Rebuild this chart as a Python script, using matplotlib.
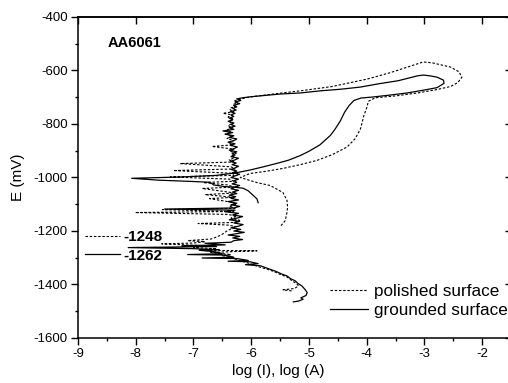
import matplotlib
matplotlib.use("Agg")
import matplotlib.pyplot as plt
from matplotlib.ticker import MultipleLocator
from matplotlib.lines import Line2D

plt.rcParams['font.family'] = ['Liberation Sans', 'DejaVu Sans']
plt.rcParams['axes.unicode_minus'] = False

# ---------------- data ----------------
# grounded surface (solid): forward scan, breakdown, reverse scan
grounded_logI = [
    -5.27, -5.18, -5.10, -5.14, -5.05, -5.03, -5.07, -5.12, -5.19, -5.24,
    -5.32, -5.38, -5.48, -5.56, -5.66, -5.76, -5.84, -6.10, -5.88, -6.02,
    -6.40, -6.05, -6.25, -6.85, -6.30, -6.45, -7.10, -6.50, -6.62, -6.90,
    -6.55, -7.00, -8.13, -6.60, -7.20, -6.45, -6.80, -6.35,
    -6.30, -6.15, -6.32, -6.20, -6.40, -6.25, -6.12, -6.30, -6.18, -6.35,
    -6.22, -6.14, -6.30, -6.20, -6.38, -6.25, -6.15, -6.32, -6.22, -6.45,
    -6.28, -7.50, -6.30, -6.20, -6.35, -6.25, -6.40, -6.22, -6.35, -6.27,
    -6.38, -6.25, -6.32, -6.22, -6.35, -6.28, -6.20, -6.33, -6.25, -6.30,
    -6.22, -6.35, -6.28, -6.20, -6.32, -6.25, -6.35, -6.28, -6.22, -6.33,
    -6.26, -6.36, -6.28, -6.22, -6.35, -6.28, -6.33, -6.25, -6.38, -6.30,
    -6.24, -6.36, -6.28, -6.40, -6.30, -6.25, -6.38, -6.30, -6.45, -6.32,
    -6.49, -6.30, -6.38, -6.28, -6.35, -6.30, -6.40, -6.32, -6.38, -6.30,
    -6.35, -6.28, -6.36, -6.26, -6.32, -6.25, -6.30, -6.20, -6.28, -6.18,
    -6.25, -6.15,
    -6.00, -5.80, -5.50, -5.15, -4.80, -4.45, -4.11, -3.80, -3.45, -3.12,
    -3.02, -2.90, -2.78, -2.67, -2.66, -2.78, -3.00, -3.30, -3.60, -3.89,
    -4.10, -4.22, -4.30, -4.38, -4.46, -4.55, -4.63, -4.81, -5.00, -5.15,
    -5.35, -5.50, -5.75, -6.02, -6.25, -6.60, -7.20, -8.07, -7.60, -7.00,
    -6.71, -6.65, -6.45, -6.31, -6.14, -6.05, -5.97, -5.90, -5.88,
]
grounded_E = [
    -1465, -1462, -1455, -1450, -1441, -1430, -1418, -1406, -1396, -1386,
    -1378, -1368, -1360, -1352, -1344, -1336, -1330, -1326, -1322, -1315,
    -1313, -1310, -1303, -1301, -1298, -1290, -1288, -1285, -1278, -1272,
    -1270, -1266, -1262, -1258, -1255, -1252, -1246, -1242,
    -1236, -1232, -1226, -1220, -1215, -1210, -1205, -1200, -1194, -1188,
    -1182, -1176, -1170, -1164, -1158, -1152, -1146, -1140, -1134, -1128,
    -1122, -1118, -1114, -1108, -1102, -1096, -1090, -1084, -1078, -1072,
    -1066, -1060, -1054, -1048, -1042, -1036, -1030, -1024, -1018, -1012,
    -1006, -1000, -994, -988, -982, -976, -970, -964, -958, -952,
    -946, -940, -934, -928, -922, -916, -910, -904, -898, -892,
    -886, -880, -874, -868, -862, -856, -850, -844, -838, -832,
    -826, -820, -814, -808, -802, -796, -790, -784, -778, -772,
    -766, -760, -754, -748, -742, -736, -730, -724, -718, -712,
    -706, -702,
    -698, -694, -688, -684, -676, -670, -662, -650, -638, -620,
    -617, -620, -625, -636, -648, -664, -673, -684, -692, -699,
    -703, -712, -730, -755, -790, -820, -843, -878, -902, -918,
    -935, -944, -958, -972, -982, -992, -998, -1003, -1010, -1015,
    -1018, -1028, -1034, -1036, -1040, -1050, -1066, -1080, -1094,
]

# polished surface (dashed)
polished_logI = [
    -5.30, -5.45, -5.25, -5.18, -5.22, -5.30, -5.38, -5.50, -5.60, -5.72,
    -5.85, -5.95, -6.05, -6.20, -6.35, -6.50, -6.35, -6.70, -5.90, -6.85,
    -6.60, -7.00, -6.80, -7.55, -7.00, -6.80, -7.10, -6.70, -6.59, -6.50,
    -6.42, -6.33,
    -6.25, -6.40, -6.92, -6.30, -6.20, -6.35, -6.25, -6.40, -8.01, -6.30,
    -7.54, -6.28, -6.38, -6.25, -6.35, -6.72, -6.30, -6.80, -6.28, -6.85,
    -6.30, -6.40, -6.83, -6.30, -6.38, -7.40, -6.30, -6.35, -7.35, -6.28,
    -6.35, -7.23, -6.30, -6.38, -6.28, -6.34, -6.26, -6.36, -6.30, -6.68,
    -6.32, -6.40, -6.30, -6.42, -6.32, -6.45, -6.35, -6.42, -6.32, -6.40,
    -6.33, -6.38, -6.30, -6.40, -6.32, -6.49, -6.30, -6.36, -6.37, -6.28,
    -6.32, -6.24, -6.30, -6.20, -6.10,
    -6.02, -5.70, -5.15, -4.60, -3.99, -3.59, -3.12, -3.02, -2.85, -2.55,
    -2.40, -2.35, -2.42, -2.55, -2.80, -3.12, -3.50, -3.85, -3.97, -4.00,
    -4.05, -4.11, -4.20, -4.34, -4.60, -4.86, -5.15, -5.45, -5.75, -6.02,
    -6.19, -5.90, -5.67, -5.45, -5.38, -5.37, -5.38, -5.41, -5.50,
]
polished_E = [
    -1424, -1420, -1415, -1405, -1396, -1385, -1372, -1362, -1352, -1343,
    -1335, -1328, -1320, -1310, -1300, -1292, -1288, -1280, -1274, -1272,
    -1266, -1262, -1255, -1248, -1245, -1240, -1236, -1230, -1222, -1212,
    -1200, -1190,
    -1184, -1178, -1172, -1168, -1160, -1152, -1145, -1138, -1131, -1127,
    -1120, -1115, -1108, -1100, -1092, -1079, -1074, -1064, -1058, -1041,
    -1036, -1028, -1019, -1014, -1006, -998, -992, -984, -974, -968,
    -960, -948, -942, -934, -926, -918, -910, -902, -894, -884,
    -878, -870, -862, -854, -846, -838, -830, -822, -814, -806,
    -798, -790, -782, -774, -766, -760, -754, -748, -741, -735,
    -728, -720, -714, -708, -702,
    -699, -690, -676, -660, -632, -608, -575, -568, -572, -587,
    -605, -625, -645, -660, -672, -684, -695, -702, -715, -740,
    -770, -820, -855, -886, -915, -936, -952, -966, -977, -985,
    -1000, -1019, -1030, -1056, -1086, -1110, -1131, -1161, -1184,
]

series_labels = ["polished surface", "grounded surface"]
ecorr_labels = ["-1248", "-1262"]
sample_label = "AA6061"
x_ticks = [-9, -8, -7, -6, -5, -4, -3, -2]
y_ticks = [-1600, -1400, -1200, -1000, -800, -600, -400]

# ---------------- figure ----------------
W, H = 508, 383
fig = plt.figure(figsize=(W / 100, H / 100), dpi=100)
ax = fig.add_axes([78 / W, (H - 338) / H, (511 - 78) / W, (338 - 17) / H])

dash_style = dict(color='black', lw=0.8, linestyle=(0, (2.2, 1.6)))
solid_style = dict(color='black', lw=0.9, linestyle='-')

ln_p, = ax.plot(polished_logI, polished_E, **dash_style)
ln_g, = ax.plot(grounded_logI, grounded_E, **solid_style)

ax.set_xlim(-9, -1.5)
ax.set_ylim(-1600, -400)
ax.set_xticks(x_ticks)
ax.set_yticks(y_ticks)
ax.xaxis.set_minor_locator(MultipleLocator(0.5))
ax.yaxis.set_minor_locator(MultipleLocator(100))
ax.tick_params(which='major', direction='out', length=5, width=1.0,
               labelsize=9.5, pad=2.5, colors='black')
ax.tick_params(which='minor', direction='out', length=2.5, width=1.0)
for s in ax.spines.values():
    s.set_linewidth(1.1)

# mirrored ticks (inward, no labels) on top and right
sx = ax.secondary_xaxis('top')
sx.set_xticks(x_ticks)
sx.tick_params(direction='in', length=5, width=1.0, labeltop=False)
sx.spines['top'].set_linewidth(1.1)
sy = ax.secondary_yaxis('right')
sy.set_yticks(y_ticks)
sy.tick_params(direction='in', length=4, width=1.0, labelright=False)

ax.set_xlabel("log (I), log (A)", fontsize=11)
ax.set_ylabel("E (mV)", fontsize=11)
ax.xaxis.set_label_coords((278 - 78) / (511 - 78), -(364 - 338) / (338 - 17), transform=ax.transAxes)
ax.yaxis.set_label_coords(-(78 - 25) / (511 - 78), 0.5, transform=ax.transAxes)

ax.text(-8.48, -497, sample_label, fontsize=10.5, fontweight='bold',
        ha='left', va='center')

leg1 = ax.legend([ln_p, ln_g], series_labels, loc='upper left',
                 bbox_to_anchor=(330 / W, 1 - 284 / H), bbox_transform=fig.transFigure,
                 frameon=False, fontsize=12.3, handlelength=2.2, handletextpad=0.35,
                 borderpad=0, borderaxespad=0, labelspacing=0.25)
ax.add_artist(leg1)

h1 = Line2D([], [], **dash_style)
h2 = Line2D([], [], **solid_style)
leg2 = ax.legend([h1, h2], ecorr_labels, loc='upper left',
                 bbox_to_anchor=(85 / W, 1 - 230 / H), bbox_transform=fig.transFigure,
                 frameon=False, prop={'size': 11, 'weight': 'bold'},
                 handlelength=2.3, handletextpad=0.2,
                 borderpad=0, borderaxespad=0, labelspacing=0.3)

fig.savefig("out.png", dpi=100)
